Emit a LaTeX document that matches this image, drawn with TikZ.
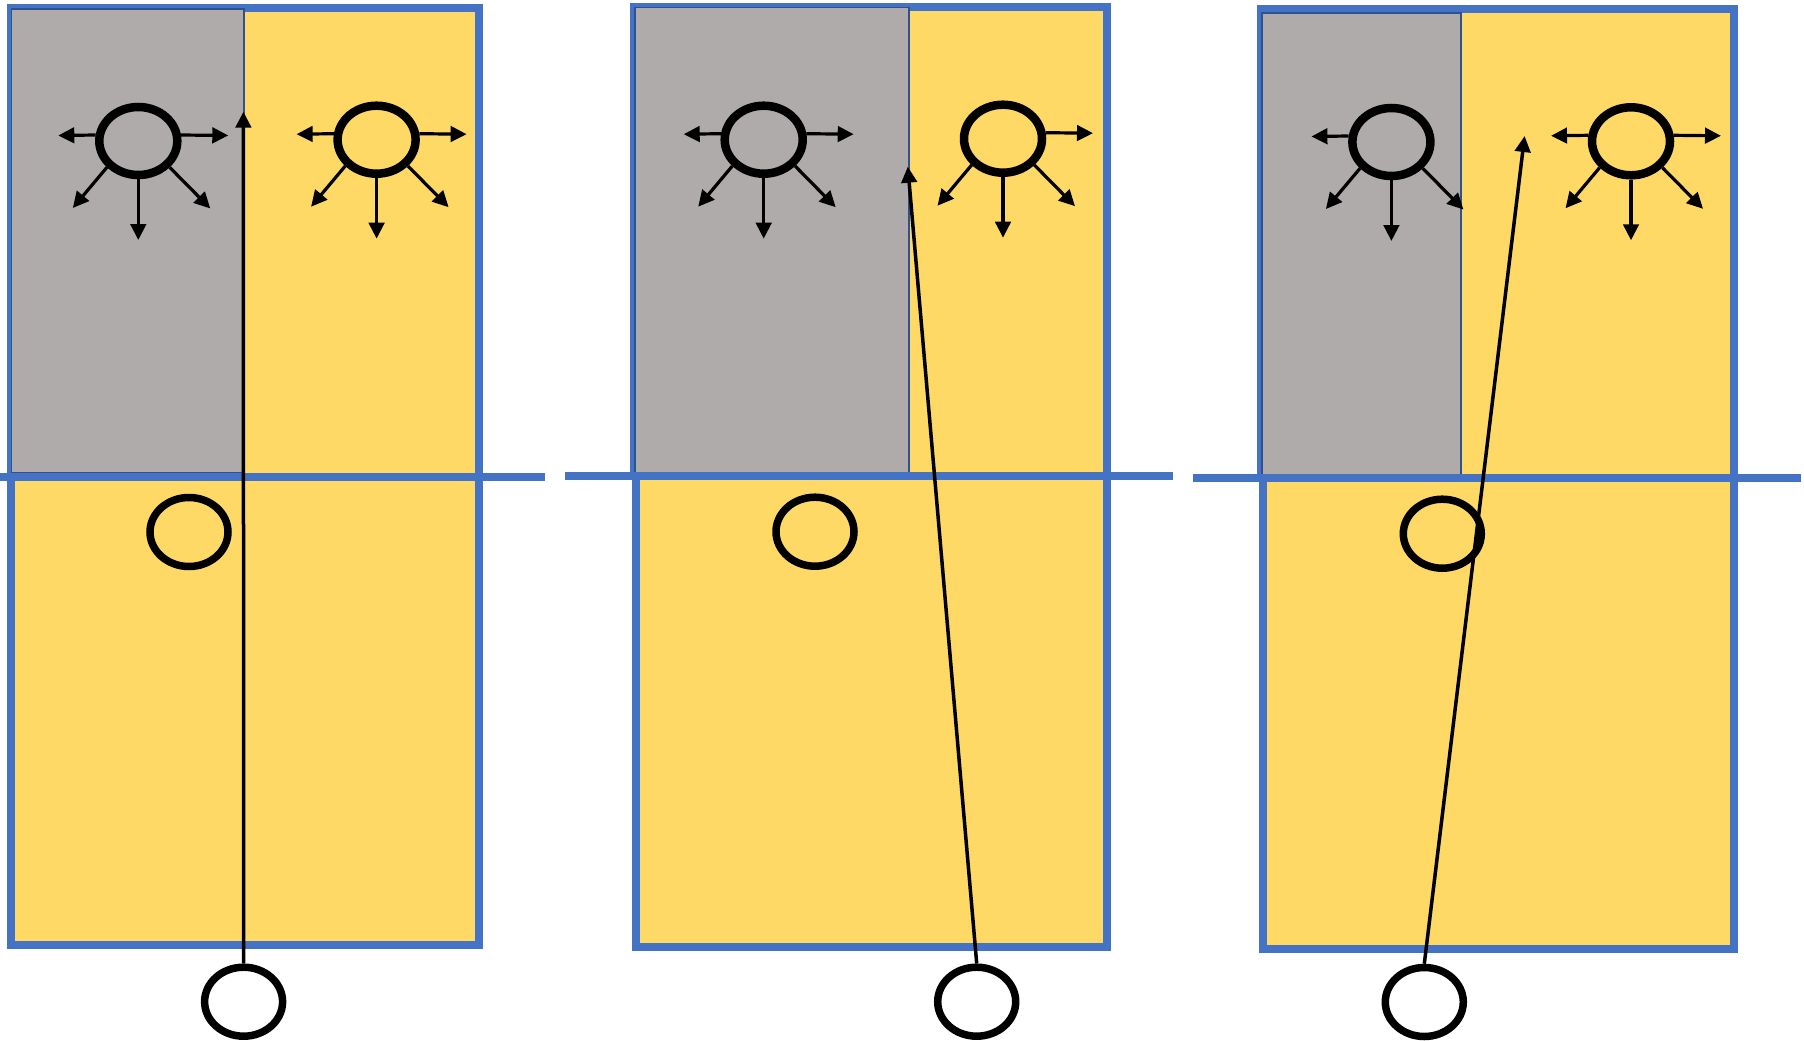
\documentclass[tikz,border=0pt]{standalone}
\usetikzlibrary{arrows.meta,calc,shapes.geometric}
\definecolor{gold}{HTML}{FFD966}
\definecolor{slate}{HTML}{AFABAB}
\definecolor{ablue}{HTML}{4472C4}
\definecolor{dblue}{HTML}{2F528F}
\newcommand\leftbeam[1]{\draw[beam] (#1.172) -- ($(#1.center)+(-80,-5.5)$);}
\newcommand\rightbeam[1]{\draw[beam] (#1.8) -- ($(#1.center)+(90,-5.5)$);}
\newcommand\downbeams[1]{%
  \draw[beam] (#1.south) -- ($(#1.center)+(0,99)$);
  \draw[beam] (#1.220) -- ($(#1.center)+(-65.5,67)$);
  \draw[beam] (#1.320) -- ($(#1.center)+(72,67.5)$);}
\begin{document}
\begin{tikzpicture}[x=1pt,y=-1pt,
  panel/.style={draw=ablue,line width=8pt,fill=gold},
  shadebox/.style={draw=dblue,line width=1.5pt,fill=slate},
  sepline/.style={draw=ablue,line width=8pt},
  src/.style={ellipse,draw=black,line width=8.5pt,minimum width=78pt,minimum height=68pt,inner sep=0pt},
  hole/.style={ellipse,draw=black,line width=7.5pt,minimum width=78pt,minimum height=69pt,inner sep=0pt},
  obs/.style={ellipse,draw=black,fill=white,line width=7.5pt,minimum width=78pt,minimum height=69pt,inner sep=0pt},
  beam/.style={draw=black,line width=3.2pt,-{Triangle[length=16pt,width=15.5pt]}},
  ray/.style={draw=black,line width=3.5pt,-{Triangle[length=16pt,width=15.5pt]}}]
\useasboundingbox[fill=white] (0,0) rectangle (1804,1041);
% ---------- panel 1
\draw[panel] (10.7,8.3) rectangle (479.3,477);
\draw[panel] (10.7,477) rectangle (479.3,945);
\draw[shadebox] (11.5,8.8) rectangle (244,472.8);
\draw[sepline] (0,476.5) -- (545.3,476.5);
% ---------- panel 2
\draw[panel] (634,7) rectangle (1107,476);
\draw[panel] (635.5,476) rectangle (1107,946.8);
\draw[shadebox] (635,7.5) rectangle (909,472.7);
\draw[sepline] (565.4,476) -- (1173,476);
% ---------- panel 3
\draw[panel] (1261,9.3) rectangle (1734,478.3);
\draw[panel] (1263,478.3) rectangle (1734,949);
\draw[shadebox] (1262,13) rectangle (1461,479);
\draw[sepline] (1193,478.3) -- (1801,478.3);
% ---------- lower ellipses
\node[hole] (h1) at (189,532) {};
\node[hole] (h2) at (815,531.7) {};
\node[hole] (h3) at (1442.3,533.7) {};
% ---------- emitters
\node[src] (g1) at (138.3,141) {};
\node[src] (y1) at (376.6,139.7) {};
\node[src] (g2) at (763.7,139.7) {};
\node[src] (y2) at (1003,138.7) {};
\node[src] (g3) at (1391.4,142) {};
\node[src] (y3) at (1631,141.3) {};
\leftbeam{g1}\rightbeam{g1}\downbeams{g1}
\leftbeam{y1}\rightbeam{y1}\downbeams{y1}
\leftbeam{g2}\rightbeam{g2}\downbeams{g2}
\rightbeam{y2}\downbeams{y2}
\leftbeam{g3}\downbeams{g3}
\leftbeam{y3}\rightbeam{y3}\downbeams{y3}
% ---------- observers and rays
\node[obs] (b1) at (243.6,1001.7) {};
\node[obs] (b2) at (976.7,1001.7) {};
\node[obs] (b3) at (1424.3,1002) {};
\coordinate (t1) at (243.4,111.7);
\coordinate (t2) at (907.8,166.7);
\coordinate (t3) at (1524.6,136);
\draw[ray] (b1.north) -- (t1);
\draw[ray] (b2.north) -- (t2);
\draw[ray] (b3.north) -- (t3);
\end{tikzpicture}
\end{document}
